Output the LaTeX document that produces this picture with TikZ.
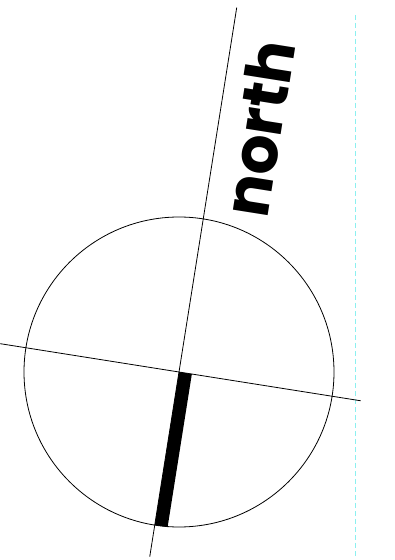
\documentclass[tikz,border=0pt]{standalone}
\usepackage{fontspec}
\newfontfamily\headfont{Poppins}
\usetikzlibrary{calc}
\definecolor{ink}{HTML}{000000}
\definecolor{guide}{HTML}{8CF0F0}

\begin{document}
\begin{tikzpicture}[x=1pt,y=1pt]
  \useasboundingbox (0,0) rectangle (395,560);
  \coordinate (ctr) at (179,188);
  \draw[guide,line width=0.8pt,dash pattern=on 5pt off 3pt] (355,545) -- (355,2);
  \draw[ink,line width=0.8pt] (ctr) circle (155);
  \begin{scope}[shift={(ctr)},rotate=-9]
    \coordinate (top) at (0,369);
    \coordinate (bot) at (0,-187);
    \coordinate (lft) at (-181,0);
    \coordinate (rgt) at (184,0);
    \draw[ink,line width=0.8pt] (bot) -- (top);
    \draw[ink,line width=0.8pt] (lft) -- (rgt);
    \fill[ink] (0,0) rectangle (13,-155);
    \node[rotate=81,anchor=base west,inner sep=0pt,text=ink,
      font=\headfont\bfseries\fontsize{63}{63}\selectfont] (lbl) at (64,164) {north};
  \end{scope}
\end{tikzpicture}
\end{document}
